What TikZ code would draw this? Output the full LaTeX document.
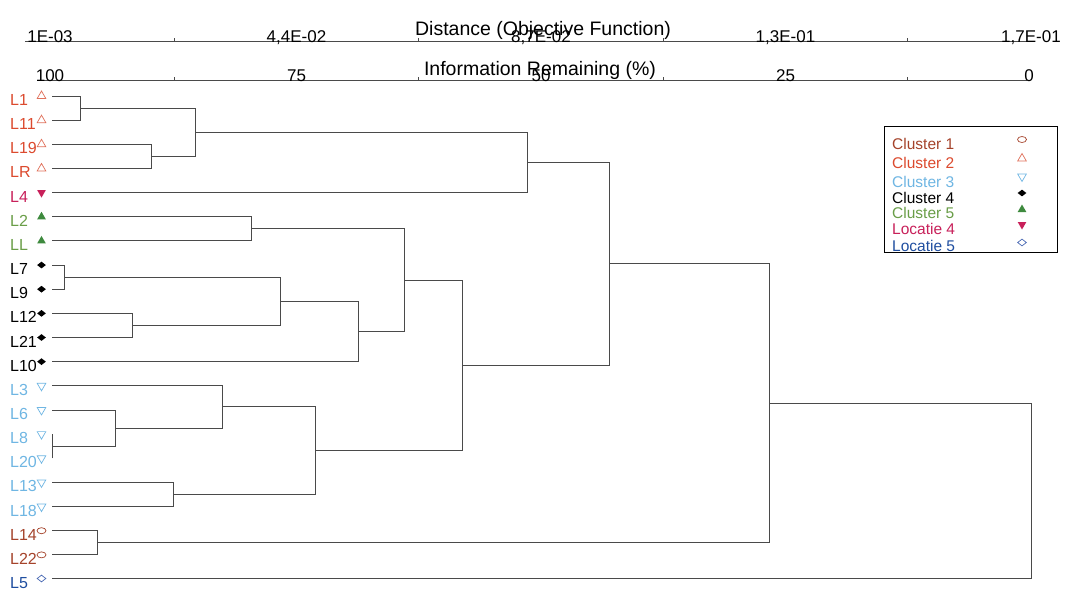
\documentclass[tikz,border=0pt]{standalone}
\usepackage{fontspec}
\setmainfont{Liberation Sans}
\usetikzlibrary{shapes.geometric}
\definecolor{cone}{HTML}{A5432B}
\definecolor{ctwo}{HTML}{DC4A2E}
\definecolor{ctwosym}{HTML}{E0705A}
\definecolor{cthree}{HTML}{6FB6E3}
\definecolor{cfive}{HTML}{6A9E48}
\definecolor{cfivesym}{HTML}{3E8A3E}
\definecolor{lfour}{HTML}{C8205A}
\definecolor{lfive}{HTML}{1F4EA0}
\definecolor{lfivesym}{HTML}{4A6AB4}
\definecolor{dline}{HTML}{4A4A4A}
\begin{document}
\begin{tikzpicture}[x=1pt,y=-1pt,
  link/.style={draw=dline, line width=0.9pt},
  axisline/.style={draw=dline, line width=0.9pt},
  leaflab/.style={anchor=base west, inner sep=0pt, font=\fontsize{16}{16}\selectfont},
  axnum/.style={anchor=base, inner sep=0pt, font=\fontsize{17}{17}\selectfont},
  axtitle/.style={anchor=base, inner sep=0pt, font=\fontsize{19.5}{19.5}\selectfont},
  legtext/.style={anchor=base west, inner sep=0pt, font=\fontsize{15.5}{15.5}\selectfont},
  tup/.style={regular polygon, regular polygon sides=3, inner sep=0pt, minimum size=10pt, line width=0.7pt},
  tdown/.style={tup, shape border rotate=180},
  dia/.style={diamond, inner sep=0pt, minimum width=9pt, minimum height=7pt, line width=0.7pt},
  ell/.style={ellipse, inner sep=0pt, minimum width=9pt, minimum height=6pt, line width=0.7pt},
  sone/.style={ell, draw=cone},
  stwo/.style={tup, draw=ctwosym},
  sthree/.style={tdown, draw=cthree},
  sfour/.style={dia, fill=black},
  sfive/.style={tup, fill=cfivesym},
  slfour/.style={tdown, fill=lfour},
  slfive/.style={dia, draw=lfivesym},
]
\useasboundingbox (0,0) rectangle (1065,590);
\fill[white] (0,0) rectangle (1065,590);

% ---- axes ----
\coordinate (dA) at (25,41);
\coordinate (dB) at (1030,41);
\draw[axisline] (dA) -- (dB);
\coordinate (iA) at (37,80);
\coordinate (iB) at (1027,80);
\draw[axisline] (iA) -- (iB);
\foreach \x in {174.25,418.75,663.25,907.75}{
  \draw[axisline] (\x,41) -- (\x,37.5);
  \draw[axisline] (\x,80) -- (\x,76.5);
}
\node[axtitle] (dtitle) at (543,35) {Distance (Objective Function)};
\node[axtitle] (ititle) at (540,75.5) {Information Remaining (\%)};
\node[axnum] (d1) at (50,42) {1E-03};
\node[axnum] (d2) at (296.5,42) {4,4E-02};
\node[axnum] (d3) at (541,42) {8,7E-02};
\node[axnum] (d4) at (785.5,42) {1,3E-01};
\node[axnum] (d5) at (1031,42) {1,7E-01};
\node[axnum] (p1) at (50,81) {100};
\node[axnum] (p2) at (296.5,81) {75};
\node[axnum] (p3) at (541,81) {50};
\node[axnum] (p4) at (785.5,81) {25};
\node[axnum] (p5) at (1029,81) {0};

% ---- leaves ----
\foreach \n/\t/\y/\c/\s in {
  L1/L1/96/ctwo/stwo, L11/L11/120.15/ctwo/stwo, L19/L19/144.3/ctwo/stwo,
  LR/LR/168.45/ctwo/stwo, L4/L4/192.6/lfour/slfour, L2/L2/216.75/cfive/sfive,
  LL/LL/240.9/cfive/sfive, L7/L7/265.05/black/sfour, L9/L9/289.2/black/sfour,
  L12/L12/313.35/black/sfour, L21/L21/337.5/black/sfour, L10/L10/361.65/black/sfour,
  L3/L3/385.8/cthree/sthree, L6/L6/409.95/cthree/sthree, L8/L8/434.1/cthree/sthree,
  L20/L20/458.25/cthree/sthree, L13/L13/482.4/cthree/sthree, L18/L18/506.55/cthree/sthree,
  L14/L14/530.7/cone/sone, L22/L22/554.85/cone/sone, L5/L5/578.5/lfive/slfive}{
  \node[leaflab, text=\c] (t\n) at (10,\y+9.5) {\t};
  \node[\s] (s\n) at (41.5,\y) {};
  \coordinate (\n) at (52,\y);
}

% ---- merge points ----
\coordinate (m1) at (80,108.08);
\coordinate (m2) at (151,156.38);
\coordinate (m3) at (195,132.23);
\coordinate (m4) at (527,162.41);
\coordinate (m5) at (251,228.83);
\coordinate (m6) at (64,277.13);
\coordinate (m7) at (132,325.43);
\coordinate (m8) at (280,301.28);
\coordinate (m9) at (358,331.46);
\coordinate (m10) at (404,280.14);
\coordinate (m11) at (52,446.18);
\coordinate (m12) at (115,428.06);
\coordinate (m13) at (222,406.93);
\coordinate (m14) at (173,494.48);
\coordinate (m15) at (315,450.7);
\coordinate (m16) at (462,365.42);
\coordinate (m17) at (609,263.92);
\coordinate (m18) at (97,542.78);
\coordinate (m19) at (769,403.35);
\coordinate (m20) at (1031,491.18);

\foreach \a/\b in {L1/m1, L11/m1, L19/m2, LR/m2, m1/m3, m2/m3, m3/m4, L4/m4,
  L2/m5, LL/m5, L7/m6, L9/m6, L12/m7, L21/m7, m6/m8, m7/m8, m8/m9, L10/m9,
  m5/m10, m9/m10, L8/m11, L20/m11, L6/m12, m11/m12, L3/m13, m12/m13,
  L13/m14, L18/m14, m13/m15, m14/m15, m10/m16, m15/m16, m4/m17, m16/m17,
  L14/m18, L22/m18, m17/m19, m18/m19, m19/m20, L5/m20}{
  \draw[link] (\a) -| (\b);
}

% ---- legend ----
\node[draw=black, line width=1.3pt, minimum width=173pt, minimum height=126pt,
  inner sep=0pt, anchor=north west] (legend) at (884,126) {};
\node[legtext, text=cone] (g1) at (892,149) {Cluster 1};
\node[legtext, text=ctwo] (g2) at (892,168) {Cluster 2};
\node[legtext, text=cthree] (g3) at (892,187) {Cluster 3};
\node[legtext, text=black] (g4) at (892,203) {Cluster 4};
\node[legtext, text=cfive] (g5) at (892,218.5) {Cluster 5};
\node[legtext, text=lfour] (g6) at (892,234.5) {Locatie 4};
\node[legtext, text=lfive] (g7) at (892,251.5) {Locatie 5};
\node[sone] (h1) at (1022,139.5) {};
\node[stwo] (h2) at (1022,158.5) {};
\node[sthree] (h3) at (1022,176.5) {};
\node[sfour] (h4) at (1022,193) {};
\node[sfive] (h5) at (1022,209.5) {};
\node[slfour] (h6) at (1022,224.5) {};
\node[slfive] (h7) at (1022,242.5) {};
\end{tikzpicture}
\end{document}
